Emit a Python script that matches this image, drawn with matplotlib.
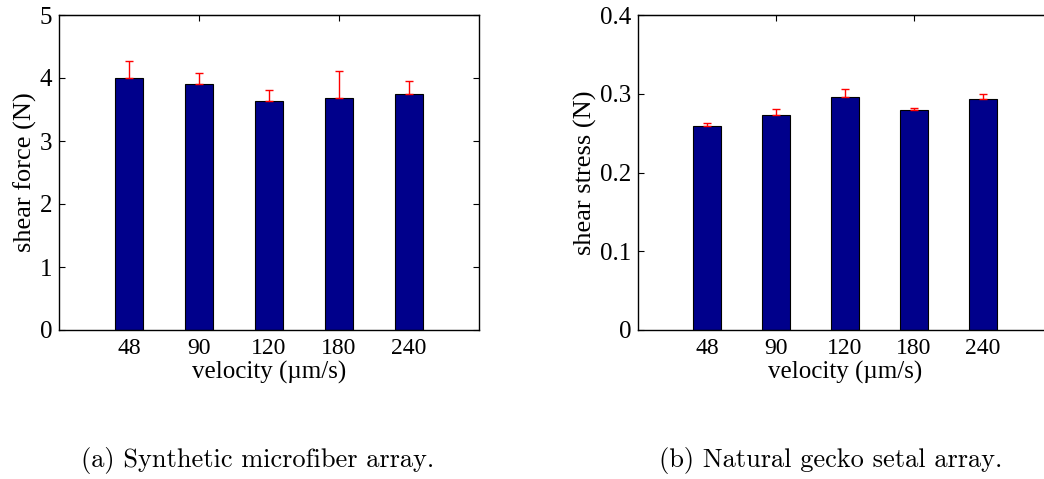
"""Shear force / shear stress vs. drag velocity: synthetic microfibers vs. gecko setae."""
import matplotlib
matplotlib.use("Agg")
import matplotlib.pyplot as plt  # noqa: E402
import numpy as np  # noqa: E402

velocities = ["48", "90", "120", "180", "240"]

synthetic_force = [4.00, 3.905, 3.635, 3.69, 3.74]
synthetic_err = [0.265, 0.18, 0.17, 0.42, 0.21]

gecko_stress = [0.2587, 0.273, 0.2955, 0.2794, 0.2933]
gecko_err = [0.0045, 0.0076, 0.0100, 0.0021, 0.0068]

panels = [
    (synthetic_force, synthetic_err, "shear force (N)", [0, 1, 2, 3, 4, 5], ["0", "1", "2", "3", "4", "5"],
     "(a) Synthetic microfiber array."),
    (gecko_stress, gecko_err, "shear stress (N)", [0, 0.1, 0.2, 0.3, 0.4], ["0", "0.1", "0.2", "0.3", "0.4"],
     "(b) Natural gecko setal array."),
]

W, H = 1044, 479
fig = plt.figure(figsize=(W / 100, H / 100), dpi=100)
plt.rcParams["font.family"] = ["Liberation Serif", "DejaVu Serif"]

boxes = [(59, 15, 420, 315), (638, 15, 414, 315)]
caption_x = [258, 831]

x = np.arange(1, len(velocities) + 1)
for (vals, err, ylabel, yt, ytl, caption), (l, t, w, h), cx in zip(panels, boxes, caption_x):
    ax = fig.add_axes([l / W, 1 - (t + h) / H, w / W, h / H])
    ax.bar(x, vals, width=0.41, color="#00008b", edgecolor="black", linewidth=0.8, zorder=2)
    ax.errorbar(x, vals, yerr=[np.zeros(len(vals)), err], fmt="none", ecolor="red",
                elinewidth=1.0, capsize=3, capthick=1.0, zorder=3)
    ax.set_xlim(0, 6)
    ax.set_ylim(yt[0], yt[-1])
    ax.set_xticks(x)
    ax.set_xticklabels(velocities, fontsize=17)
    ax.set_yticks(yt)
    ax.set_yticklabels(ytl, fontsize=18)
    ax.tick_params(axis="y", direction="in", length=4, right=True, pad=5)
    ax.tick_params(axis="x", direction="in", length=0, pad=6)
    top = ax.secondary_xaxis("top")
    top.set_xticks([2, 4])
    top.set_xticklabels([])
    top.tick_params(direction="in", length=4)
    for s in ax.spines.values():
        s.set_linewidth(1.0)
    ax.set_xlabel("velocity (\u00b5m/s)", fontsize=18, labelpad=1)
    ax.set_ylabel(ylabel, fontsize=19, labelpad=2)
    fig.text(cx / W, 1 - 461 / H, caption, fontsize=19, family="cmr10", ha="center", va="center")

fig.savefig("out.png", dpi=100)
